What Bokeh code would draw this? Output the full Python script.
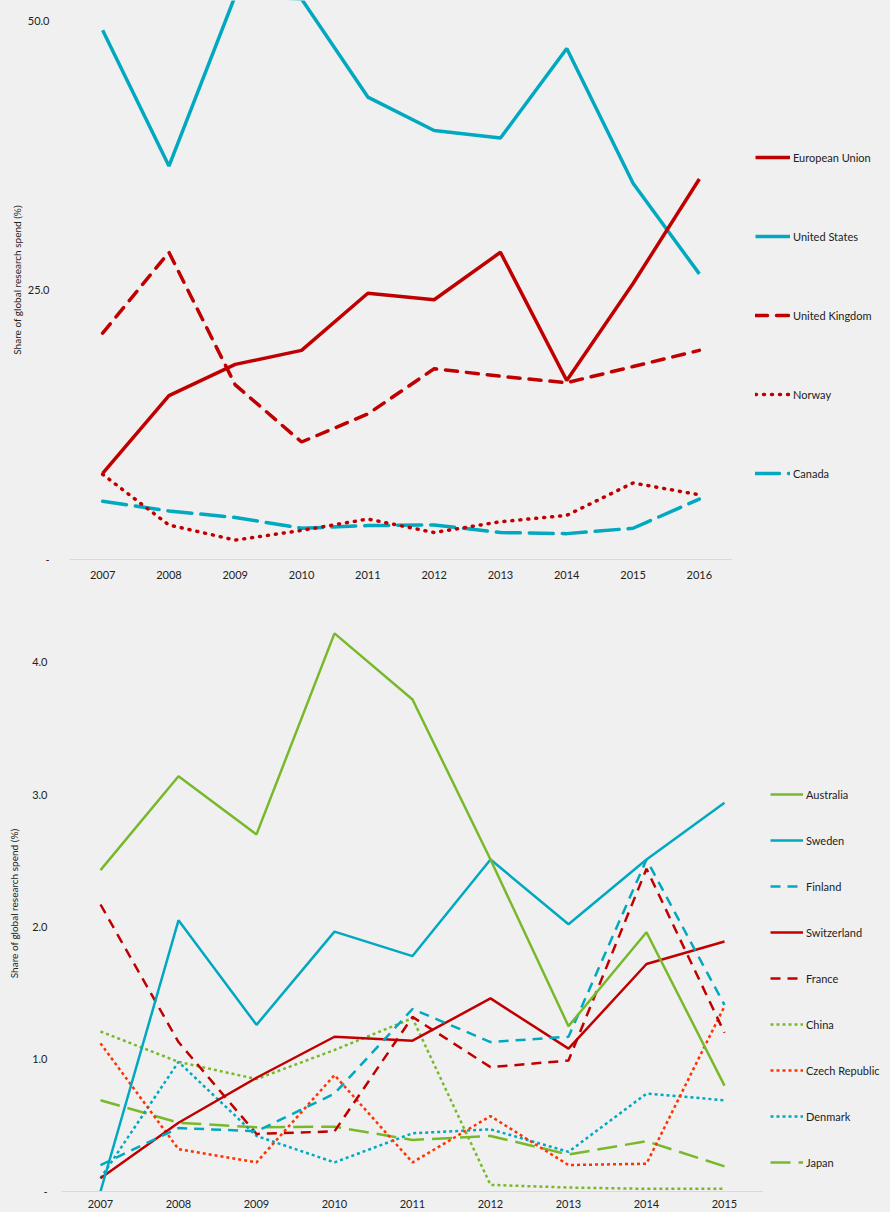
from bokeh.plotting import figure
from bokeh.layouts import column, row
from bokeh.models import Legend, LegendItem, FactorRange, Range1d, FixedTicker, NumeralTickFormatter
from bokeh.embed import file_html
from bokeh.resources import INLINE

# ---------------- data: top chart ----------------
years_top = ["2007", "2008", "2009", "2010", "2011", "2012", "2013", "2014", "2015", "2016"]
european_union = [8.0, 15.2, 18.1, 19.4, 24.7, 24.1, 28.5, 16.6, 25.6, 35.3]
united_states = [49.1, 36.5, 52.3, 52.0, 42.9, 39.8, 39.1, 47.4, 34.9, 26.5]
united_kingdom = [21.0, 28.5, 16.2, 10.9, 13.5, 17.7, 17.0, 16.4, 17.9, 19.4]
norway = [7.9, 3.2, 1.8, 2.7, 3.75, 2.5, 3.5, 4.1, 7.1, 6.0]
canada = [5.4, 4.5, 3.9, 2.9, 3.15, 3.2, 2.5, 2.4, 2.9, 5.6]

# ---------------- data: bottom chart ----------------
years_bottom = ["2007", "2008", "2009", "2010", "2011", "2012", "2013", "2014", "2015"]
australia = [2.43, 3.14, 2.70, 4.22, 3.72, 2.51, 1.25, 1.96, 0.80]
sweden = [0.0, 2.05, 1.26, 1.965, 1.78, 2.51, 2.02, 2.51, 2.94]
finland = [0.20, 0.48, 0.455, 0.74, 1.38, 1.13, 1.17, 2.51, 1.41]
switzerland = [0.10, 0.52, 0.86, 1.17, 1.14, 1.46, 1.08, 1.72, 1.89]
france = [2.17, 1.13, 0.435, 0.455, 1.32, 0.94, 0.99, 2.44, 1.20]
china = [1.21, 0.98, 0.85, 1.07, 1.31, 0.05, 0.03, 0.02, 0.02]
czech_republic = [1.12, 0.32, 0.22, 0.88, 0.22, 0.57, 0.20, 0.21, 1.40]
denmark = [0.10, 0.98, 0.42, 0.22, 0.44, 0.47, 0.30, 0.74, 0.69]
japan = [0.69, 0.52, 0.485, 0.49, 0.39, 0.42, 0.28, 0.38, 0.19]

RED = "#C00000"
TEAL = "#00A8C0"
GREEN = "#78B92C"
ORANGE = "#FF3300"
BG = "#F0F0F0"
TXT = "#222222"
FONT = "Lato"
AXIS_LABEL = "Share of global research spend (%)"

# series: (name, values, color, width, dash, cap)
top_series = [
    ("European Union", european_union, RED, 3.5, "solid", "butt"),
    ("United States", united_states, TEAL, 3.5, "solid", "butt"),
    ("United Kingdom", united_kingdom, RED, 3.5, "12 9", "round"),
    ("Norway", norway, RED, 3.5, "1 7", "round"),
    ("Canada", canada, TEAL, 3.5, "24 9", "round"),
]
bottom_series = [
    ("Australia", australia, GREEN, 2.5, "solid", "butt"),
    ("Sweden", sweden, TEAL, 2.5, "solid", "butt"),
    ("Finland", finland, TEAL, 2.5, "10 7", "butt"),
    ("Switzerland", switzerland, RED, 2.5, "solid", "butt"),
    ("France", france, RED, 2.5, "10 7", "butt"),
    ("China", china, GREEN, 2.5, "3 3", "butt"),
    ("Czech Republic", czech_republic, ORANGE, 2.5, "3 3", "butt"),
    ("Denmark", denmark, TEAL, 2.5, "3 3", "butt"),
    ("Japan", japan, GREEN, 2.5, "20 8", "butt"),
]


def style(p, label_standoff_x, label_standoff_y, axis_label_standoff):
    p.background_fill_color = BG
    p.border_fill_color = BG
    p.outline_line_color = None
    p.xgrid.grid_line_color = None
    p.ygrid.grid_line_color = None
    xa = p.xaxis[0]
    xa.axis_line_color = "#D9D9D9"
    xa.axis_line_width = 1
    xa.major_tick_line_color = None
    xa.minor_tick_line_color = None
    xa.major_tick_out = 0
    xa.major_tick_in = 0
    xa.major_label_text_font = FONT
    xa.major_label_text_font_size = "11px"
    xa.major_label_text_color = TXT
    xa.major_label_standoff = label_standoff_x
    ya = p.yaxis[0]
    ya.axis_line_color = None
    ya.major_tick_line_color = None
    ya.minor_tick_line_color = None
    ya.major_tick_out = 0
    ya.major_tick_in = 0
    ya.minor_tick_out = 0
    ya.major_label_text_font = FONT
    ya.major_label_text_font_size = "11px"
    ya.major_label_text_color = TXT
    ya.major_label_standoff = label_standoff_y
    ya.axis_label = AXIS_LABEL
    ya.axis_label_text_font = FONT
    ya.axis_label_text_font_size = "10px"
    ya.axis_label_text_font_style = "normal"
    ya.axis_label_text_color = TXT
    ya.axis_label_standoff = axis_label_standoff
    ya.formatter = NumeralTickFormatter(format="0.0")
    ya.major_label_overrides = {0: "-"}


def legend_figure(series, years, width, height, x, y, spacing, glyph_width):
    # a narrow panel holding only the legend; its lines lie outside its visible range
    lf = figure(width=width, height=height, output_backend="svg", toolbar_location=None,
                x_axis_type=None, y_axis_type=None, min_border=0,
                x_range=Range1d(0, 1), y_range=Range1d(0, 1))
    lf.background_fill_color = BG
    lf.border_fill_color = BG
    lf.outline_line_color = None
    xs = [int(v) for v in years]
    items = []
    for name, vals, color, lw, dash, cap in series:
        r = lf.line(x=xs, y=vals, line_color=color, line_width=lw, line_dash=dash, line_cap=cap)
        items.append(LegendItem(label=name, renderers=[r]))
    leg = Legend(items=items, location=(x, y), glyph_width=glyph_width, glyph_height=20,
                 label_height=20, label_standoff=3, spacing=spacing, padding=0, margin=0,
                 border_line_color=None, background_fill_alpha=0,
                 label_text_font=FONT, label_text_font_size="11px", label_text_color=TXT)
    lf.add_layout(leg, "center")
    return lf


# ---------------- top figure ----------------
p1 = figure(width=732, height=595, output_backend="svg", toolbar_location=None,
            x_range=FactorRange(*years_top, range_padding=0),
            y_range=Range1d(0, 51.86),
            min_border_left=69, min_border_right=0, min_border_top=0, min_border_bottom=36)
style(p1, 11, 20, 2)
p1.yaxis[0].ticker = FixedTicker(ticks=[0, 25, 50])
for name, vals, color, lw, dash, cap in reversed(top_series):
    p1.line(years_top, vals, line_color=color, line_width=lw, line_dash=dash, line_cap=cap)
l1 = legend_figure(top_series, years_top, 158, 595, 23, 76, 59, 35)

# ---------------- bottom figure ----------------
p2 = figure(width=763, height=617, output_backend="svg", toolbar_location=None,
            x_range=FactorRange(*years_bottom, range_padding=0),
            y_range=Range1d(0, 4.355),
            min_border_left=61, min_border_right=0, min_border_top=20, min_border_bottom=21)
style(p2, 8, 14, 9)
p2.yaxis[0].ticker = FixedTicker(ticks=[0, 1, 2, 3, 4])
for name, vals, color, lw, dash, cap in reversed(bottom_series):
    p2.line(years_bottom, vals, line_color=color, line_width=lw, line_dash=dash, line_cap=cap)
l2 = legend_figure(bottom_series, years_bottom, 127, 617, 7, 19, 26, 33)

layout = column(row(p1, l1, spacing=0), row(p2, l2, spacing=0), spacing=0)
layout.styles = {"background-color": BG}

open("out.html", "w").write(file_html(layout, INLINE))
